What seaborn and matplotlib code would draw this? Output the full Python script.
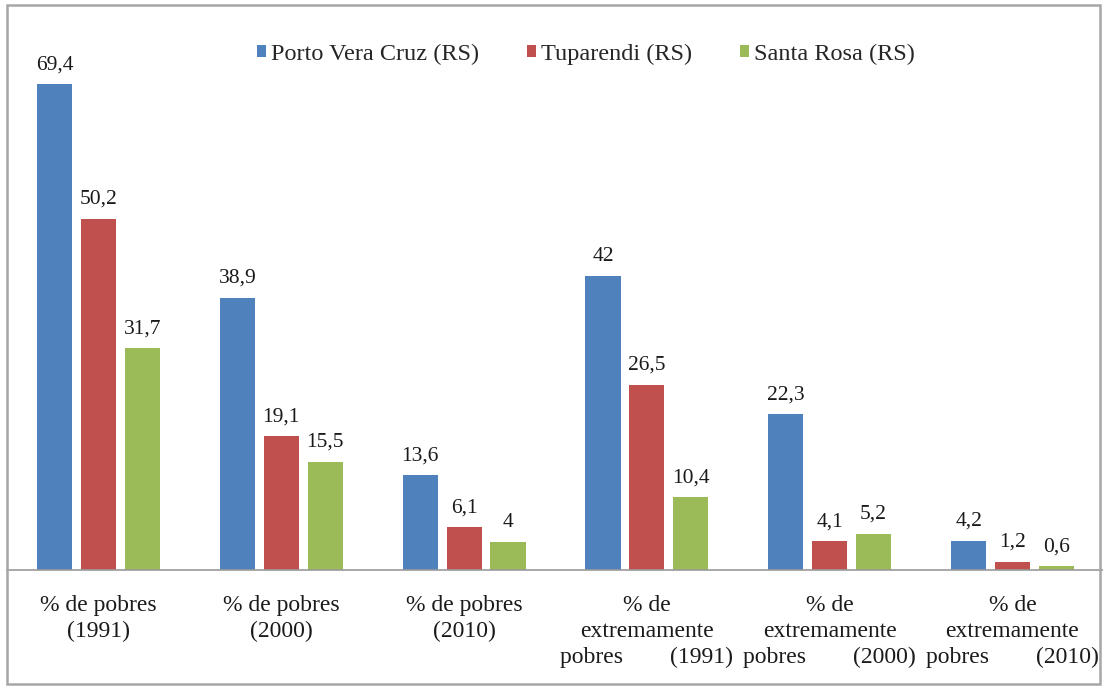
import matplotlib
matplotlib.use("Agg")
import matplotlib.pyplot as plt
import seaborn as sns
import pandas as pd
from matplotlib.patches import Rectangle

categories = [
    "% de pobres\n(1991)",
    "% de pobres\n(2000)",
    "% de pobres\n(2010)",
    "% de\nextremamente\npobres        (1991)",
    "% de\nextremamente\npobres        (2000)",
    "% de\nextremamente\npobres        (2010)",
]
municipios = ["Porto Vera Cruz (RS)", "Tuparendi (RS)", "Santa Rosa (RS)"]
porto_vera_cruz = [69.4, 38.9, 13.6, 42.0, 22.3, 4.2]
tuparendi = [50.2, 19.1, 6.1, 26.5, 4.1, 1.2]
santa_rosa = [31.7, 15.5, 4.0, 10.4, 5.2, 0.6]
colors = ["#4F81BD", "#C0504D", "#9BBB59"]

series = [porto_vera_cruz, tuparendi, santa_rosa]
rows = []
for mun, vals in zip(municipios, series):
    for cat, v in zip(categories, vals):
        rows.append({"categoria": cat, "municipio": mun, "valor": v})
df = pd.DataFrame(rows)

sns.set_style("white")
plt.rcParams["font.family"] = ["Liberation Serif", "DejaVu Serif"]

W, H = 1103, 688
fig = plt.figure(figsize=(W / 100, H / 100), dpi=100)
ax = fig.add_axes([7.1 / W, (H - 570) / H, 1096.8 / W, 525 / H])

sns.barplot(data=df, x="categoria", y="valor", hue="municipio",
            order=categories, hue_order=municipios, palette=colors,
            saturation=1, width=0.72, gap=0.2, linewidth=0,
            ax=ax, legend=True)

ax.set_ylim(0, 75)
ax.set_xlim(-0.5, 5.5)

for cont in ax.containers:
    labels = [f"{b.get_height():g}".replace(".", ",") for b in cont]
    ax.bar_label(cont, labels=labels, padding=7, fontsize=15.5, color="#1a1a1a")

ax.set_xlabel("")
ax.set_ylabel("")
ax.set_yticks([])
ax.tick_params(axis="x", length=0, pad=18, labelsize=17, labelcolor="#1a1a1a")
for t in ax.get_xticklabels():
    t.set_linespacing(1.3)
for side in ["top", "left", "right"]:
    ax.spines[side].set_visible(False)
ax.spines["bottom"].set_color("#9a9a9a")
ax.spines["bottom"].set_linewidth(1.2)

ax.legend(loc="center", bbox_to_anchor=(586 / W, (H - 54) / H),
          bbox_transform=fig.transFigure, ncol=3, frameon=False,
          fontsize=17.5, handlelength=0.35, handleheight=0.35,
          handletextpad=0.2, columnspacing=2.0)

# outer chart frame
fig.patches.append(Rectangle((7 / W, 4 / H), 1093 / W, 679 / H,
                             transform=fig.transFigure, fill=False,
                             edgecolor="#a6a6a6", linewidth=1.8))

fig.savefig("out.png", dpi=100)
